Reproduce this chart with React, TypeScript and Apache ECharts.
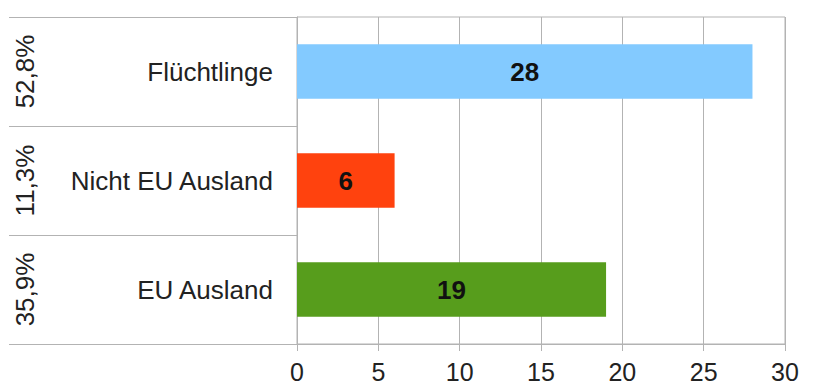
import React, { useEffect, useRef } from "react";
import * as echarts from "echarts";

// Herkunft der Personen
const categories = ["Flüchtlinge", "Nicht EU Ausland", "EU Ausland"];
const counts = [28, 6, 19];
const shares = ["52,8%", "11,3%", "35,9%"];
const barColors = ["#83caff", "#ff420e", "#579d1c"];
const xTicks = { min: 0, max: 30, interval: 5 };

const FONT = "'Liberation Sans', Arial, sans-serif";
const GRID_COLOR = "#b3b3b3";
const TEXT_COLOR = "#222222";

export default function App() {
  const ref = useRef<HTMLDivElement>(null);

  useEffect(() => {
    if (!ref.current) return;
    const chart = echarts.init(ref.current, undefined, { renderer: "svg" });
    chart.setOption({
      animation: false,
      textStyle: { fontFamily: FONT },
      grid: {
        left: 297,
        right: 37,
        top: 17,
        bottom: 44,
        show: true,
        borderColor: GRID_COLOR,
        borderWidth: 1,
        containLabel: false,
      },
      xAxis: {
        type: "value",
        min: xTicks.min,
        max: xTicks.max,
        interval: xTicks.interval,
        axisLine: { show: true, lineStyle: { color: GRID_COLOR } },
        axisTick: { show: true, length: 7, lineStyle: { color: GRID_COLOR } },
        splitLine: { show: true, lineStyle: { color: GRID_COLOR, width: 1 } },
        axisLabel: {
          color: TEXT_COLOR,
          fontSize: 25,
          lineHeight: 25,
          fontFamily: FONT,
          margin: 15,
        },
      },
      yAxis: [
        {
          type: "category",
          data: categories,
          inverse: true,
          position: "left",
          axisLine: { show: true, lineStyle: { color: GRID_COLOR } },
          axisTick: {
            show: true,
            length: 288,
            alignWithLabel: false,
            lineStyle: { color: GRID_COLOR },
          },
          axisLabel: {
            color: TEXT_COLOR,
            fontSize: 26,
            fontFamily: FONT,
            margin: 24,
          },
        },
        {
          type: "category",
          data: shares,
          inverse: true,
          position: "left",
          axisLine: { show: false },
          axisTick: { show: false },
          axisLabel: {
            color: TEXT_COLOR,
            fontSize: 26,
            fontFamily: FONT,
            rotate: 90,
            margin: 259,
          },
        },
      ],
      series: [
        {
          type: "bar",
          yAxisIndex: 0,
          barWidth: "50%",
          data: counts.map((v, i) => ({
            value: v,
            itemStyle: { color: barColors[i] },
          })),
          label: {
            show: true,
            position: "inside",
            color: "#111111",
            fontWeight: "bold",
            fontSize: 26,
            fontFamily: FONT,
          },
        },
      ],
    });
    return () => chart.dispose();
  }, []);

  return (
    <div
      ref={ref}
      style={{
        position: "fixed",
        left: 0,
        top: 0,
        width: 822,
        height: 388,
        background: "#ffffff",
      }}
    />
  );
}
